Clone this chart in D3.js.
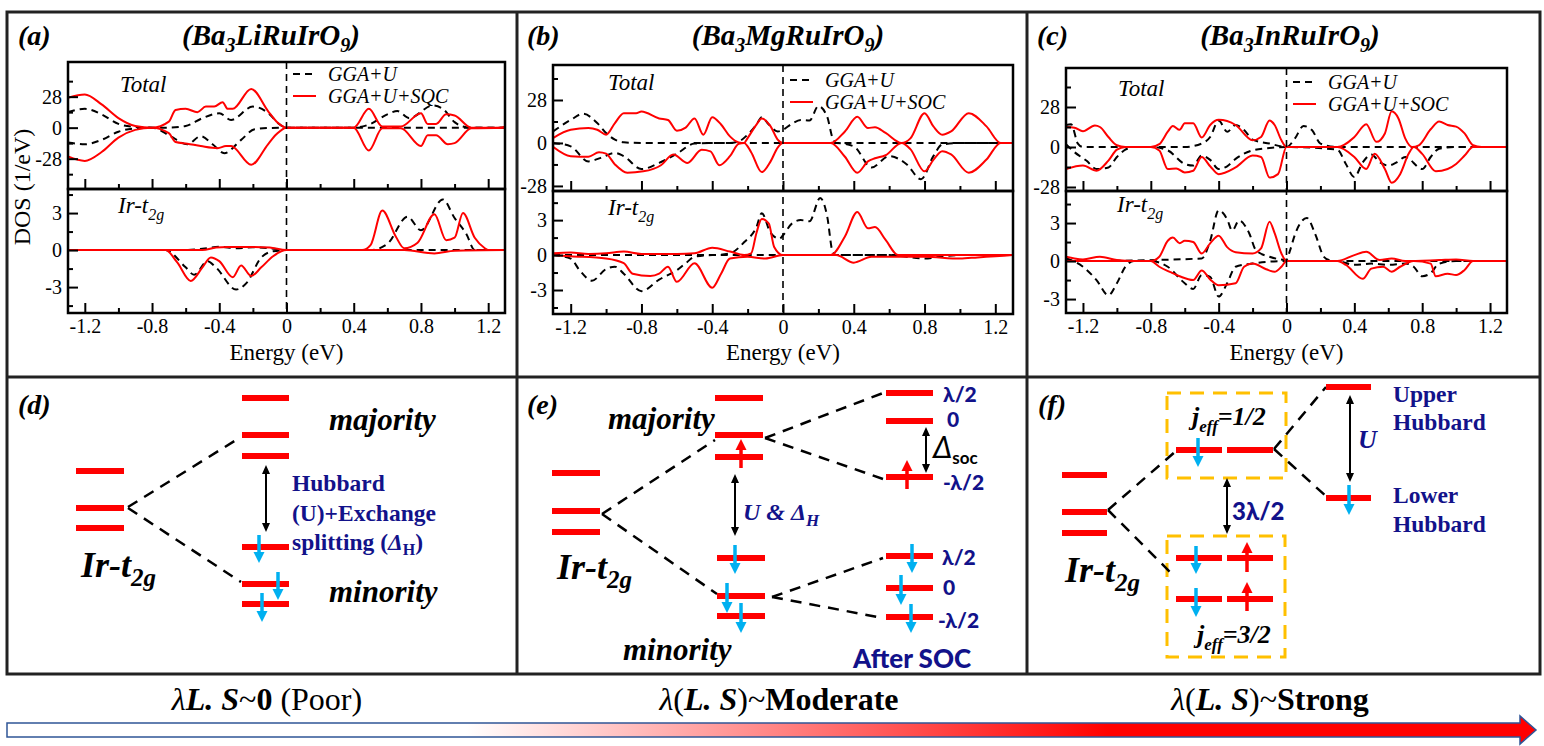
<!DOCTYPE html>
<html lang="en">
<head>
<meta charset="UTF-8">
<title>Ba3MRuIrO9 DOS and level schemes</title>
<script src="https://d3js.org/d3.v7.min.js"></script>
<style>
  body { margin: 0; background: #fff; }
  text { font-family: "Liberation Serif", "Times New Roman", serif; }
</style>
</head>
<body>
<svg id="fig" width="1544" height="746"></svg>
<script>
// ---------- DOS data, [energy (eV), DOS] ----------
// (a) Ba3LiRuIrO9
const aTotGgaUp = [[-1.3,14],[-1.2,17],[-1.1,12],[-1.0,3.4],[-0.9,0.6],[-0.8,0],[-0.7,0],[-0.6,1.5],[-0.5,8.6],[-0.4,13],[-0.33,7],[-0.2,19],[-0.1,12],[-0.05,4],[0,0],[0.4,0],[0.5,3.4],[0.6,12],[0.66,15],[0.73,8.6],[0.87,20],[0.93,17],[1.0,5],[1.05,1],[1.1,0],[1.3,0]];
const aTotGgaDn = [[-1.3,-13.5],[-1.2,-15],[-1.1,-11],[-1.0,-3.7],[-0.9,-0.6],[-0.8,0],[-0.7,-6.8],[-0.59,-15],[-0.51,-7.7],[-0.44,-15],[-0.37,-23],[-0.27,-11],[-0.19,-1.5],[-0.1,-0.3],[0,0],[1.3,0]];
const aTotSocUp = [[-1.3,27],[-1.2,30],[-1.1,21],[-1.0,8.6],[-0.9,1.5],[-0.8,0],[-0.7,5.5],[-0.66,16],[-0.6,17],[-0.53,14],[-0.48,19],[-0.43,19],[-0.38,23],[-0.35,17],[-0.32,17],[-0.21,35],[-0.11,15],[-0.06,5.5],[0,0],[0.4,0],[0.49,17],[0.57,1],[0.68,1],[0.8,13],[0.84,3.4],[0.89,3.4],[0.95,12],[1.0,11],[1.1,0],[1.27,0],[1.3,0.8]];
const aTotSocDn = [[-1.3,-26],[-1.2,-30],[-1.1,-22],[-1.0,-9],[-0.9,-2],[-0.8,0],[-0.7,-5],[-0.66,-13],[-0.59,-14.5],[-0.51,-16.6],[-0.41,-18.5],[-0.36,-16.6],[-0.33,-16.6],[-0.21,-33.5],[-0.11,-15],[-0.06,-6],[0,0],[0.4,0],[0.49,-20.6],[0.57,-0.6],[0.68,-0.6],[0.8,-16.6],[0.84,-6.8],[0.89,-6.8],[0.96,-15],[1.0,-14],[1.1,-0.6],[1.3,0]];
const aIrGgaUp = [[-1.3,0],[-0.6,0],[-0.5,0.1],[-0.4,0.27],[-0.3,0.15],[-0.2,0.22],[-0.1,0.15],[0,0],[0.5,0],[0.6,0.5],[0.72,2.7],[0.8,1.6],[0.93,4.1],[1.0,2.6],[1.07,1.3],[1.12,0],[1.3,0]];
const aIrGgaDn = [[-1.3,0],[-0.72,0],[-0.6,-1.4],[-0.55,-2.0],[-0.47,-0.9],[-0.42,-1.4],[-0.3,-3.2],[-0.24,-2.7],[-0.15,-0.6],[-0.08,-0.1],[0,0],[1.3,0]];
const aIrSocUp = [[-1.3,0],[-0.5,0],[-0.42,0.2],[-0.35,0.25],[-0.2,0.25],[-0.1,0.2],[0,0],[0.45,0],[0.5,0.4],[0.57,3.2],[0.65,1.1],[0.7,0.15],[0.78,0.6],[0.88,2.9],[0.95,0.8],[1.0,1.0],[1.05,3.0],[1.12,1.0],[1.18,0.15],[1.2,0],[1.3,0]];
const aIrSocDn = [[-1.3,0],[-0.72,0],[-0.65,-1.0],[-0.57,-2.5],[-0.5,-1.4],[-0.45,-0.6],[-0.4,-0.9],[-0.32,-2.2],[-0.27,-1.25],[-0.21,-2.1],[-0.15,-1.4],[-0.08,-0.5],[0,0],[0.7,0],[0.88,-0.27],[1.0,-0.05],[1.3,0]];

// (b) Ba3MgRuIrO9
const bTotGgaUp = [[-1.3,7.5],[-1.2,15],[-1.13,19],[-1.05,13],[-1.0,6.5],[-0.95,2.2],[-0.9,0.4],[-0.8,0],[-0.3,0],[-0.25,1],[-0.2,5.4],[-0.15,12],[-0.12,16.8],[-0.08,12],[-0.03,7.5],[0,8.6],[0.05,12.5],[0.1,15],[0.15,14.6],[0.2,24],[0.25,17],[0.28,3.2],[0.3,0],[1.3,0]];
const bTotGgaDn = [[-1.3,0],[-1.2,-2.2],[-1.1,-12],[-1.03,-9.7],[-0.95,-6.5],[-0.9,-8.6],[-0.8,-17],[-0.7,-13],[-0.6,-7],[-0.5,-0.4],[-0.4,0],[0.3,0],[0.4,-2.2],[0.5,-16],[0.6,-8.6],[0.7,-14],[0.78,-23.7],[0.85,-8.6],[0.9,-1],[1.0,0],[1.3,0]];
const bTotSocUp = [[-1.3,3.2],[-1.2,8.6],[-1.1,9.7],[-1.05,8.6],[-1.0,5.4],[-0.95,13],[-0.9,19.4],[-0.83,19.4],[-0.8,20.5],[-0.7,16],[-0.65,15],[-0.6,8],[-0.55,10],[-0.5,16],[-0.45,5.4],[-0.4,16.8],[-0.35,12],[-0.3,4.3],[-0.25,0.4],[-0.22,0],[-0.2,3.2],[-0.15,12],[-0.12,16],[-0.07,10.8],[-0.03,2.2],[0,0],[0.27,0],[0.35,7.5],[0.42,17],[0.48,9.7],[0.52,10.3],[0.58,6.5],[0.67,0],[0.72,3],[0.8,19.4],[0.85,10.8],[0.9,5.4],[0.95,7.5],[1.05,19.4],[1.15,10.8],[1.23,0],[1.3,0]];
const bTotSocDn = [[-1.3,-2.5],[-1.2,-8.6],[-1.1,-9],[-1.04,-6],[-1.0,-7],[-0.95,-14],[-0.88,-19.4],[-0.79,-18.5],[-0.69,-14.5],[-0.62,-7.5],[-0.54,-13],[-0.46,-4.5],[-0.41,-5.5],[-0.36,-14.5],[-0.3,-8.6],[-0.25,-0.5],[-0.22,0],[-0.18,-6],[-0.12,-19],[-0.07,-12],[-0.03,-3],[0,0],[0.27,0],[0.35,-9],[0.42,-19.4],[0.48,-12],[0.52,-10],[0.58,-8],[0.67,0],[0.72,-4],[0.8,-18.5],[0.85,-11],[0.9,-5.4],[0.95,-7.5],[1.05,-19.4],[1.15,-10.8],[1.23,0],[1.3,0]];
const bIrGgaUp = [[-1.3,0],[-0.4,0],[-0.3,0.15],[-0.22,1.1],[-0.15,2.4],[-0.12,3.6],[-0.07,1.9],[-0.02,1.4],[0,1.7],[0.05,2.7],[0.1,3.0],[0.15,2.9],[0.21,4.9],[0.25,3.3],[0.28,0.3],[0.3,0],[1.3,0]];
const bIrGgaDn = [[-1.3,0],[-1.2,-0.3],[-1.15,-1.3],[-1.08,-2.2],[-1.0,-1.2],[-0.95,-1.0],[-0.9,-1.6],[-0.8,-3.1],[-0.7,-2.1],[-0.6,-1.3],[-0.55,-0.7],[-0.5,-0.15],[-0.4,0],[0.6,0],[0.8,-0.3],[0.9,-0.1],[1.0,0],[1.3,0]];
const bIrSocUp = [[-1.3,0.15],[-1.2,0.23],[-1.1,0.1],[-1.0,0.15],[-0.9,0.3],[-0.8,0.1],[-0.6,0.1],[-0.5,0.15],[-0.4,0.63],[-0.3,0.3],[-0.22,0],[-0.18,0.15],[-0.15,1.9],[-0.12,3.1],[-0.08,2.7],[-0.05,0.7],[0,0],[0.27,0],[0.35,1.6],[0.42,3.7],[0.48,2.3],[0.52,2.4],[0.58,1.3],[0.65,0],[1.3,0]];
const bIrSocDn = [[-1.3,0],[-1.2,-0.1],[-1.0,-0.3],[-0.9,-0.7],[-0.85,-1.6],[-0.75,-1.8],[-0.7,-1.6],[-0.65,-1.0],[-0.6,-2.3],[-0.5,-0.7],[-0.4,-2.8],[-0.35,-1.6],[-0.3,-0.3],[-0.2,-0.15],[-0.1,-0.3],[0,0],[0.3,0],[0.4,-0.65],[0.5,-0.15],[0.8,-0.15],[1.0,-0.3],[1.1,-0.2],[1.2,-0.1],[1.3,0]];

// (c) Ba3InRuIrO9
const cTotGgaUp = [[-1.3,15.4],[-1.27,16],[-1.23,2.4],[-1.2,0],[-0.6,0],[-0.5,2.4],[-0.45,7],[-0.4,18.5],[-0.35,10.7],[-0.3,15.4],[-0.25,11.9],[-0.2,5.2],[-0.1,2.4],[0,0],[0.05,6],[0.1,14.7],[0.15,11.9],[0.2,2.4],[0.3,0],[1.3,0]];
const cTotGgaDn = [[-1.3,2],[-1.25,-3.6],[-1.18,-9.5],[-1.12,-15.4],[-1.05,-14.3],[-1.0,-7],[-0.95,-1.9],[-0.9,0],[-0.8,0],[-0.7,-2.4],[-0.6,-11.9],[-0.55,-13],[-0.5,-6],[-0.45,-9],[-0.4,-15.4],[-0.35,-13.5],[-0.3,-8.3],[-0.2,-2.4],[-0.1,-0.7],[0,0],[0.3,-1.9],[0.35,-11.9],[0.4,-21],[0.45,-10.7],[0.5,-5.2],[0.55,-10.7],[0.6,-13],[0.65,-10.7],[0.7,-7],[0.8,-15.4],[0.85,-7],[0.9,-1.2],[1.0,0],[1.3,0]];
const cTotSocUp = [[-1.3,14],[-1.25,13.5],[-1.2,11],[-1.13,15],[-1.1,14],[-1.05,7],[-1.0,1.2],[-0.95,0],[-0.8,0],[-0.75,2],[-0.7,10.7],[-0.67,14.7],[-0.63,12],[-0.6,16.6],[-0.55,16.6],[-0.5,6.6],[-0.45,15.4],[-0.4,19],[-0.3,15.4],[-0.2,4.7],[-0.15,7],[-0.1,18.5],[-0.07,15.4],[-0.03,4.7],[0,0],[0.3,0],[0.4,7],[0.47,16],[0.53,3.6],[0.58,9.5],[0.62,25],[0.66,20],[0.7,6],[0.74,0],[0.78,1.2],[0.85,12.4],[0.9,17.8],[0.95,15.4],[1.0,14.3],[1.05,9.5],[1.1,1.2],[1.15,0],[1.3,0]];
const cTotSocDn = [[-1.3,-15.4],[-1.2,-13],[-1.12,-16.6],[-1.05,-9.5],[-1.0,-1.9],[-0.95,0],[-0.8,0],[-0.75,-2.4],[-0.7,-15.4],[-0.65,-15],[-0.6,-17.8],[-0.55,-16.6],[-0.5,-7],[-0.45,-13.5],[-0.4,-19],[-0.3,-14.3],[-0.2,-6],[-0.15,-7],[-0.1,-21.4],[-0.05,-19],[0,0],[0.3,0],[0.4,-7],[0.47,-15.4],[0.52,-4.8],[0.58,-15.4],[0.62,-25],[0.67,-19],[0.72,-4.8],[0.75,0],[0.8,-4.8],[0.88,-17],[0.95,-15.4],[1.0,-11.9],[1.05,-6],[1.1,0],[1.3,0]];
const cIrGgaUp = [[-1.3,0.2],[-1.25,0],[-0.5,0.2],[-0.45,1.6],[-0.4,4.0],[-0.35,3.3],[-0.32,2.4],[-0.28,3.2],[-0.22,2.2],[-0.18,0.85],[-0.1,0.34],[0,0.1],[0.02,0.8],[0.05,2.1],[0.12,3.4],[0.17,2.1],[0.22,0.34],[0.25,0.08],[0.3,0],[1.3,0]];
const cIrGgaDn = [[-1.3,0.2],[-1.25,-0.05],[-1.2,-0.45],[-1.12,-1.5],[-1.05,-2.7],[-1.0,-1.75],[-0.95,-0.45],[-0.9,0],[-0.8,0],[-0.7,-0.45],[-0.6,-1.75],[-0.55,-2.2],[-0.5,-1.1],[-0.45,-1.25],[-0.4,-2.8],[-0.35,-1.75],[-0.3,-0.45],[-0.2,-0.2],[0,0],[0.3,0],[0.4,-0.3],[0.5,-0.2],[0.6,-0.3],[0.7,-0.2],[0.75,-0.45],[0.8,-1.2],[0.85,-0.95],[0.9,-0.2],[1.0,0],[1.3,0]];
const cIrSocUp = [[-1.3,0.34],[-1.25,0.2],[-1.2,0.13],[-1.1,0.34],[-1.0,0.08],[-0.9,0],[-0.8,0],[-0.75,0.34],[-0.7,1.6],[-0.67,1.85],[-0.63,1.4],[-0.6,1.6],[-0.55,1.5],[-0.5,0.6],[-0.45,1.4],[-0.4,2.0],[-0.35,1.1],[-0.3,0.7],[-0.2,0.6],[-0.15,1.0],[-0.1,3.1],[-0.07,2.2],[-0.03,0.6],[0,0],[0.3,0],[0.4,0.47],[0.47,0.73],[0.55,0.08],[0.62,0.2],[0.7,0],[0.9,0.08],[1.0,0.13],[1.1,0],[1.3,0]];
const cIrSocDn = [[-1.3,0],[-0.8,0],[-0.75,-0.45],[-0.68,-0.9],[-0.63,-1.2],[-0.55,-1.5],[-0.5,-0.75],[-0.45,-1.45],[-0.4,-1.9],[-0.3,-1.75],[-0.25,-0.45],[-0.2,-0.2],[-0.12,-0.65],[-0.07,-0.85],[-0.03,-0.45],[0,0],[0.3,0],[0.35,-0.3],[0.45,-1.4],[0.5,-0.6],[0.57,-0.45],[0.62,-0.84],[0.67,-0.45],[0.75,0],[0.85,-0.2],[0.88,-1.2],[0.95,-1.0],[1.0,-1.1],[1.05,-0.7],[1.1,0],[1.3,0]];

// axis ticks
const energyTicks = [-1.2, -1.0, -0.8, -0.6, -0.4, -0.2, 0, 0.2, 0.4, 0.6, 0.8, 1.0, 1.2];
const energyLabels = [-1.2, -0.8, -0.4, 0, 0.4, 0.8, 1.2];
const totTicks = [-42, -28, -14, 0, 14, 28, 42];
const totLabels = [-28, 0, 28];
const irTicks = [-4.5, -3, -1.5, 0, 1.5, 3, 4.5];
const irLabels = [-3, 0, 3];

// ---------- level schemes (d)-(f): [x0, x1, y] bars, [x0,y0,x1,y1] links, [x, yFrom, yTip] spins ----------
const dBars = [[76,124,471],[76,124,508],[76,124,528],[242,289,398],[242,289,435],[242,289,456],[242,289,547],[242,289,584],[242,289,604]];
const dLinks = [[128,507,241,437],[128,508,241,582]];
const dSpins = [[259,535,563],[278,572,600],[262,593,622]];
const dGaps = [[266,465,532]];

const eBars = [[552,600,473],[552,600,511],[552,600,532],[715,763,398],[715,763,435],[715,763,457],[717,765,558],[717,765,596],[717,765,616],[886,933,393],[886,933,421],[886,933,477],[886,933,556],[886,933,588],[886,933,617]];
const eLinks = [[602,514,715,440],[602,514,717,594],[765,438,883,393],[765,438,883,479],[772,597,883,558],[772,597,883,618]];
const eSpins = [[741,468,439],[907,489,460],[735,545,574],[727,583,613],[741,603,633],[912,544,573],[901,575,605],[911,604,633]];
const eGaps = [[735,474,536],[926,427,473]];

const fBars = [[1062,1107,475],[1062,1107,512],[1062,1107,533],[1176,1222,450],[1227,1273,450],[1176,1222,558],[1227,1273,558],[1176,1222,599],[1227,1273,599],[1326,1371,387],[1326,1371,498]];
const fLinks = [[1108,510,1176,451],[1108,510,1172,574],[1274,449,1326,387],[1274,449,1328,498]];
const fSpins = [[1198,438,467],[1196,546,574],[1196,588,617],[1349,485,515],[1247,572,542],[1247,611,582]];
const fGaps = [[1227,478,534],[1350,395,482]];
const fBoxes = [[1167,393,1286,478],[1167,536,1285,657]];

const navy = "#12128a", red = "#ff0000", sky = "#00b0f0", amber = "#ffc000";
const svg = d3.select("#fig");
svg.append("rect").attr("width", 1544).attr("height", 746).attr("fill", "#fff");
const defs = svg.append("defs");

// rich text with tspans; parts: {t, size, weight, style, sub, fill, family}
function rich(x, y, parts, base) {
  const t = svg.append("text").attr("x", x).attr("y", y);
  Object.entries(base || {}).forEach(([k, v]) => {
    if (k === "text-anchor") t.attr(k, v);
    else t.style(k, k === "font-size" ? v + "px" : v);
  });
  let shift = 0;
  parts.forEach(p => {
    const s = t.append("tspan").text(p.t);
    const want = p.sub || 0;
    if (want !== shift) s.attr("dy", want - shift);
    shift = want;
    if (p.size) s.style("font-size", p.size + "px");
    if (p.weight) s.style("font-weight", p.weight);
    if (p.style) s.style("font-style", p.style);
    if (p.fill) s.style("fill", p.fill);
    if (p.family) s.style("font-family", p.family);
  });
  return t;
}

const fmt = d => String(+d.toFixed(1));

const panels = [
  { left: 68, right: 505, top: 62, mid: 189, bottom: 313, totDom: [-55.4, 59.3], irDom: [-5.1, 4.95],
    tag: "(a)", tagX: 18, metal: "Li", titleX: 271, legX: 293, legY: 74, soc: "GGA+U+SQC",
    totX: 120, totY: 92, irX: 118, irY: 213,
    tot: [aTotGgaUp, aTotGgaDn, aTotSocUp, aTotSocDn], ir: [aIrGgaUp, aIrGgaDn, aIrSocUp, aIrSocDn] },
  { left: 553, right: 1013, top: 65, mid: 191, bottom: 314, totDom: [-31.3, 50.8], irDom: [-5.06, 5.5],
    tag: "(b)", tagX: 527, metal: "Mg", titleX: 788, legX: 790, legY: 80, soc: "GGA+U+SOC",
    totX: 608, totY: 90, irX: 608, irY: 215,
    tot: [bTotGgaUp, bTotGgaDn, bTotSocUp, bTotSocDn], ir: [bIrGgaUp, bIrGgaDn, bIrSocUp, bIrSocDn] },
  { left: 1066, right: 1507, top: 68, mid: 191, bottom: 313, totDom: [-30.8, 55.3], irDom: [-4.1, 5.53],
    tag: "(c)", tagX: 1037, metal: "In", titleX: 1290, legX: 1293, legY: 82, soc: "GGA+U+SOC",
    totX: 1118, totY: 96, irX: 1117, irY: 212,
    tot: [cTotGgaUp, cTotGgaDn, cTotSocUp, cTotSocDn], ir: [cIrGgaUp, cIrGgaDn, cIrSocUp, cIrSocDn] }
];

function styleAxis(g) {
  g.select(".domain").remove();
  g.attr("font-family", "Liberation Serif").attr("font-size", 20);
  g.selectAll(".tick line").attr("stroke-width", 2);
  g.selectAll(".tick text").attr("fill", "#000");
}

panels.forEach((p, i) => {
  const x = d3.scaleLinear().domain([-1.3, 1.3]).range([p.left, p.right]);
  const yT = d3.scaleLinear().domain(p.totDom).range([p.mid, p.top]);
  const yB = d3.scaleLinear().domain(p.irDom).range([p.bottom, p.mid]);
  const subs = [[yT, p.top, p.mid, p.tot, totTicks, totLabels, p.totDom], [yB, p.mid, p.bottom, p.ir, irTicks, irLabels, p.irDom]];

  subs.forEach(([y, y0, y1, series, ticks, labels, dom], j) => {
    const id = "clip" + i + j;
    defs.append("clipPath").attr("id", id).append("rect")
      .attr("x", p.left).attr("y", y0).attr("width", p.right - p.left).attr("height", y1 - y0);
    const line = d3.line().x(d => x(d[0])).y(d => y(d[1])).curve(d3.curveMonotoneX);
    const g = svg.append("g").attr("clip-path", `url(#${id})`);
    series.forEach((s, k) => {
      g.append("path").attr("d", line(s)).attr("fill", "none")
        .attr("stroke", k < 2 ? "#000" : red).attr("stroke-width", 2)
        .attr("stroke-dasharray", k < 2 ? "7,5" : null);
    });

    // inward ticks, only those inside the visible range
    const inside = ticks.filter(t => t > dom[0] && t < dom[1]);
    const major = inside.filter(t => labels.includes(t));
    const minor = inside.filter(t => !labels.includes(t));
    styleAxis(svg.append("g").attr("transform", `translate(${p.left},0)`)
      .call(d3.axisLeft(y).tickValues(major).tickSize(-10).tickPadding(6).tickFormat(fmt)));
    styleAxis(svg.append("g").attr("transform", `translate(${p.left},0)`)
      .call(d3.axisLeft(y).tickValues(minor).tickSize(-5).tickFormat("")));
    const xMajor = energyTicks.filter(t => energyLabels.includes(t));
    const xMinor = energyTicks.filter(t => !energyLabels.includes(t));
    styleAxis(svg.append("g").attr("transform", `translate(0,${y1})`)
      .call(d3.axisBottom(x).tickValues(xMajor).tickSize(-10).tickPadding(6)
        .tickFormat(j === 1 ? fmt : "")));
    styleAxis(svg.append("g").attr("transform", `translate(0,${y1})`)
      .call(d3.axisBottom(x).tickValues(xMinor).tickSize(-5).tickFormat("")));

    svg.append("rect").attr("x", p.left).attr("y", y0)
      .attr("width", p.right - p.left).attr("height", y1 - y0)
      .attr("fill", "none").attr("stroke", "#000").attr("stroke-width", 2.5);
  });

  // Fermi level
  svg.append("line").attr("x1", x(0)).attr("x2", x(0)).attr("y1", p.top).attr("y2", p.bottom)
    .attr("stroke", "#000").attr("stroke-width", 1.6).attr("stroke-dasharray", "7,5");

  // legend
  [["GGA+U", "#000", "7,5"], [p.soc, red, null]].forEach(([lab, col, dash], k) => {
    const ly = p.legY + k * 22;
    svg.append("line").attr("x1", p.legX).attr("x2", p.legX + 23).attr("y1", ly).attr("y2", ly)
      .attr("stroke", col).attr("stroke-width", 2).attr("stroke-dasharray", dash);
    svg.append("text").attr("x", p.legX + 35).attr("y", ly + 7)
      .style("font-size", "20px").style("font-style", "italic").text(lab);
  });

  svg.append("text").attr("x", p.totX).attr("y", p.totY)
    .style("font-size", "23px").style("font-style", "italic").text("Total");
  rich(p.irX, p.irY, [{ t: "Ir-t" }, { t: "2g", size: 16, sub: 7 }],
    { "font-size": 23, "font-style": "italic" });

  svg.append("text").attr("x", x(0)).attr("y", 360).attr("text-anchor", "middle")
    .style("font-size", "23px").text("Energy (eV)");

  svg.append("text").attr("x", p.tagX).attr("y", 45)
    .style("font-size", "28px").style("font-weight", "bold").style("font-style", "italic").text(p.tag);
  rich(p.titleX, 45, [{ t: "(Ba" }, { t: "3", size: 20, sub: 7 }, { t: p.metal + "RuIrO" },
    { t: "9", size: 20, sub: 7 }, { t: ")" }],
    { "text-anchor": "middle", "font-size": 29, "font-weight": "bold", "font-style": "italic" });
});

svg.append("text").attr("transform", "translate(30,187) rotate(-90)").attr("text-anchor", "middle")
  .style("font-size", "24px").text("DOS (1/eV)");

// ---------- frames ----------
svg.append("rect").attr("x", 7).attr("y", 12).attr("width", 1533).attr("height", 662)
  .attr("fill", "none").attr("stroke", "#222").attr("stroke-width", 3);
[517, 1027].forEach(xv => svg.append("line").attr("x1", xv).attr("x2", xv).attr("y1", 12).attr("y2", 674)
  .attr("stroke", "#222").attr("stroke-width", 3));
svg.append("line").attr("x1", 7).attr("x2", 1540).attr("y1", 377).attr("y2", 377)
  .attr("stroke", "#222").attr("stroke-width", 3);

// ---------- level scheme helpers ----------
function bars(list) {
  list.forEach(([x0, x1, y]) => svg.append("line").attr("x1", x0).attr("x2", x1).attr("y1", y).attr("y2", y)
    .attr("stroke", red).attr("stroke-width", 6));
}
function links(list) {
  list.forEach(([x0, y0, x1, y1]) => svg.append("line").attr("x1", x0).attr("y1", y0).attr("x2", x1).attr("y2", y1)
    .attr("stroke", "#000").attr("stroke-width", 2.5).attr("stroke-dasharray", "11,8"));
}
function spins(list) {
  list.forEach(([xv, yFrom, yTip]) => {
    const dir = yTip > yFrom ? 1 : -1;
    const col = dir > 0 ? sky : red;
    const hl = 11, hw = 5.5;
    svg.append("line").attr("x1", xv).attr("x2", xv).attr("y1", yFrom).attr("y2", yTip - dir * hl)
      .attr("stroke", col).attr("stroke-width", 3.5);
    svg.append("path").attr("fill", col)
      .attr("d", `M${xv - hw},${yTip - dir * hl} L${xv + hw},${yTip - dir * hl} L${xv},${yTip} Z`);
  });
}
function gaps(list) {
  list.forEach(([xv, y0, y1]) => {
    svg.append("line").attr("x1", xv).attr("x2", xv).attr("y1", y0 + 7).attr("y2", y1 - 7)
      .attr("stroke", "#000").attr("stroke-width", 2);
    svg.append("path").attr("d", `M${xv - 4},${y0 + 9} L${xv},${y0} L${xv + 4},${y0 + 9} Z M${xv - 4},${y1 - 9} L${xv},${y1} L${xv + 4},${y1 - 9} Z`)
      .attr("fill", "#000");
  });
}

const bi = { "font-weight": "bold", "font-style": "italic" };
function irLabel(xv, yv) {
  rich(xv, yv, [{ t: "Ir-t" }, { t: "2g", size: 25, sub: 9 }], Object.assign({ "font-size": 36 }, bi));
}
function tag(t, xv) {
  svg.append("text").attr("x", xv).attr("y", 414).style("font-size", "28px")
    .style("font-weight", "bold").style("font-style", "italic").text(t);
}
const sansB = { "font-family": "Lato, 'Open Sans', 'DejaVu Sans', sans-serif", "font-weight": "900", fill: navy };

// (d)
links(dLinks); bars(dBars); spins(dSpins); gaps(dGaps);
tag("(d)", 18);
irLabel(81, 577);
rich(329, 430, [{ t: "majority" }], Object.assign({ "font-size": 31 }, bi));
rich(329, 602, [{ t: "minority" }], Object.assign({ "font-size": 31 }, bi));
const hubb = { "font-size": 23.5, "font-weight": "bold", fill: navy };
rich(292, 491, [{ t: "Hubbard" }], hubb);
rich(292, 521, [{ t: "(U)+Exchange" }], hubb);
rich(292, 550, [{ t: "splitting (" }, { t: "Δ", style: "italic" }, { t: "H", size: 16, sub: 5 }, { t: ")" }], hubb);

// (e)
links(eLinks); bars(eBars); spins(eSpins); gaps(eGaps);
tag("(e)", 527);
irLabel(557, 579);
rich(608, 429, [{ t: "majority" }], Object.assign({ "font-size": 31 }, bi));
rich(623, 660, [{ t: "minority" }], Object.assign({ "font-size": 31 }, bi));
rich(743, 520, [{ t: "U & Δ" }, { t: "H", size: 17, sub: 6 }],
  { "font-size": 24, "font-weight": "bold", "font-style": "italic", fill: navy });
rich(933, 458, [{ t: "Δ", style: "italic", size: 30, weight: "normal" }, { t: "soc", size: 17, sub: 6 }],
  Object.assign({}, sansB, { fill: "#000", "font-weight": "bold" }));
[["λ/2", 943, 402], ["0", 947, 427], ["-λ/2", 943, 490], ["λ/2", 942, 565], ["0", 943, 595], ["-λ/2", 938, 628]]
  .forEach(([t, xv, yv]) => rich(xv, yv, [{ t }], Object.assign({ "font-size": 21 }, sansB)));
rich(853, 668, [{ t: "After SOC" }], Object.assign({ "font-size": 26 }, sansB));

// (f)
fBoxes.forEach(([x0, y0, x1, y1]) => svg.append("rect").attr("x", x0).attr("y", y0)
  .attr("width", x1 - x0).attr("height", y1 - y0).attr("fill", "none")
  .attr("stroke", amber).attr("stroke-width", 3).attr("stroke-dasharray", "14,9"));
links(fLinks); bars(fBars); spins(fSpins); gaps(fGaps);
tag("(f)", 1038);
irLabel(1065, 582);
rich(1192, 425, [{ t: "j" }, { t: "eff", size: 17, sub: 7 }, { t: "=1/2" }], Object.assign({ "font-size": 26 }, bi));
rich(1197, 643, [{ t: "j" }, { t: "eff", size: 17, sub: 7 }, { t: "=3/2" }], Object.assign({ "font-size": 26 }, bi));
rich(1232, 520, [{ t: "3λ/2" }], Object.assign({ "font-size": 24 }, sansB));
rich(1358, 448, [{ t: "U" }], { "font-size": 26, "font-weight": "bold", "font-style": "italic", fill: navy });
rich(1393, 402, [{ t: "Upper" }], hubb);
rich(1393, 430, [{ t: "Hubbard" }], hubb);
rich(1393, 503, [{ t: "Lower" }], hubb);
rich(1393, 532, [{ t: "Hubbard" }], hubb);

// ---------- SOC strength arrow ----------
const grad = defs.append("linearGradient").attr("id", "soc").attr("x1", 0).attr("x2", 1).attr("y1", 0).attr("y2", 0);
[[0, "#fff"], [0.3, "#fff"], [0.72, red], [1, red]].forEach(([o, c]) =>
  grad.append("stop").attr("offset", o).attr("stop-color", c));
svg.append("path").attr("d", "M7,723 L1520,723 L1520,716 L1536,730 L1520,744 L1520,737 L7,737 Z")
  .attr("fill", "url(#soc)").attr("stroke", "#2f5597").attr("stroke-width", 1.5);

const strip = { "font-size": 32, "text-anchor": "middle" };
rich(267, 710, [{ t: "λ", style: "italic" }, { t: "L.", style: "italic", weight: "bold" }, { t: " " },
  { t: "S", style: "italic", weight: "bold" }, { t: "~" }, { t: "0", weight: "bold" }, { t: " (Poor)" }], strip);
rich(779, 710, [{ t: "λ", style: "italic" }, { t: "(" }, { t: "L.", style: "italic", weight: "bold" }, { t: " " },
  { t: "S", style: "italic", weight: "bold" }, { t: ")~" }, { t: "Moderate", weight: "bold" }], strip);
rich(1270, 710, [{ t: "λ", style: "italic" }, { t: "(" }, { t: "L.", style: "italic", weight: "bold" }, { t: " " },
  { t: "S", style: "italic", weight: "bold" }, { t: ")~" }, { t: "Strong", weight: "bold" }], strip);
</script>
</body>
</html>
